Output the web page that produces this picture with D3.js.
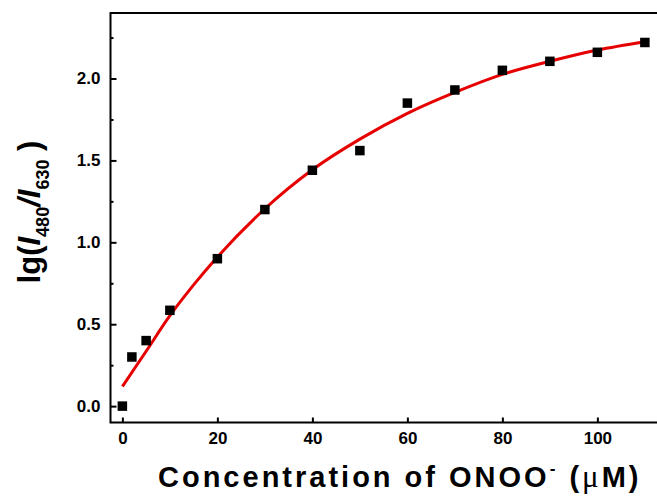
<!DOCTYPE html>
<html><head><meta charset="utf-8">
<script src="https://cdn.jsdelivr.net/npm/d3@7/dist/d3.min.js"></script>
<style>
html,body{margin:0;padding:0;background:#fff;}
svg{display:block;}
text{font-family:"Liberation Sans",Arial,sans-serif;font-weight:bold;fill:#000;}
</style></head>
<body>
<svg id="c" width="657" height="497"></svg>
<script>
// Data
const concX = [0, 2, 5, 10, 20, 30, 40, 50, 60, 70, 80, 90, 100, 110];
const ratioY = [0.0, 0.30, 0.40, 0.585, 0.90, 1.20, 1.44, 1.56, 1.85, 1.93, 2.05, 2.105, 2.16, 2.22];
// Fitted curve
const fitX = [0, 5, 10, 15, 20, 30, 40, 50, 60, 70, 80, 90, 100, 110];
const fitY = [0.12, 0.335, 0.552, 0.74, 0.91, 1.205, 1.443, 1.63, 1.787, 1.915, 2.025, 2.105, 2.174, 2.225];
const xTicks = [0, 20, 40, 60, 80, 100];
const yTicks = [0.0, 0.5, 1.0, 1.5, 2.0];
const yMinor = [0.25, 0.75, 1.25, 1.75, 2.25];

const svg = d3.select("#c");
const L = 110.5, T = 13, B = 422.5;
const pxPerX = 4.75;
const x = d3.scaleLinear().domain([-2.5, 113]).range([L, L + pxPerX * 115.5]);
const y = d3.scaleLinear().domain([-0.1, 2.4]).range([B, T]);

// frame
svg.append("rect").attr("x", L).attr("y", T)
  .attr("width", x.range()[1] - L).attr("height", B - T)
  .attr("fill", "none").attr("stroke", "#000").attr("stroke-width", 2);

// y axis (ticks inward)
const yAx = svg.append("g").attr("transform", `translate(${L},0)`)
  .call(d3.axisLeft(y).tickValues(yTicks).tickSize(-6).tickPadding(10).tickFormat(d3.format(".1f")));
yAx.select(".domain").remove();
yAx.selectAll("line").attr("stroke-width", 2);
yAx.selectAll("text").attr("font-size", 17).attr("font-family", '"Liberation Sans",Arial,sans-serif').attr("font-weight", "bold");
const yMin = svg.append("g").attr("transform", `translate(${L},0)`)
  .call(d3.axisLeft(y).tickValues(yMinor).tickSize(-3).tickFormat(""));
yMin.select(".domain").remove();
yMin.selectAll("line").attr("stroke-width", 2);

// x axis (ticks inward)
const xAx = svg.append("g").attr("transform", `translate(0,${B})`)
  .call(d3.axisBottom(x).tickValues(xTicks).tickSize(-5).tickPadding(9));
xAx.select(".domain").remove();
xAx.selectAll("line").attr("stroke-width", 2);
xAx.selectAll("text").attr("font-size", 17).attr("font-family", '"Liberation Sans",Arial,sans-serif').attr("font-weight", "bold");

// fit curve
const line = d3.line().x(d => x(d[0])).y(d => y(d[1])).curve(d3.curveMonotoneX);
svg.append("path").datum(fitX.map((v, i) => [v, fitY[i]]))
  .attr("d", line).attr("fill", "none").attr("stroke", "#e60000").attr("stroke-width", 3);

// points
const s = 9.5;
svg.append("g").selectAll("rect").data(concX.map((v, i) => [v, ratioY[i]])).join("rect")
  .attr("x", d => x(d[0]) - s / 2).attr("y", d => y(d[1]) - s / 2)
  .attr("width", s).attr("height", s).attr("fill", "#000");

// x label
const xl = svg.append("text").attr("x", 158).attr("y", 487).attr("text-anchor", "start")
  .attr("font-size", 29).attr("letter-spacing", 3);
xl.append("tspan").text("Concentration of ONOO");
xl.append("tspan").attr("dy", -13).attr("font-size", 17).text("-");
xl.append("tspan").attr("dy", 13).text(" (");
xl.append("tspan").attr("font-family", '"Liberation Serif","Times New Roman",serif').attr("font-weight", "normal").attr("font-size", 31).text("μ");
xl.append("tspan").text("M)");

// y label
const yl = svg.append("text").attr("transform", "translate(40,212) rotate(-90)")
  .attr("text-anchor", "middle").attr("font-size", 31);
yl.append("tspan").text("lg(");
yl.append("tspan").attr("font-style", "italic").text("I");
yl.append("tspan").attr("dy", 9).attr("font-size", 18).text("480");
yl.append("tspan").attr("dy", -9).attr("font-style", "italic").text("/");
yl.append("tspan").attr("font-style", "italic").text("I");
yl.append("tspan").attr("dy", 9).attr("font-size", 18).text("630");
yl.append("tspan").attr("dy", -9).text(" )");
</script>
</body></html>
